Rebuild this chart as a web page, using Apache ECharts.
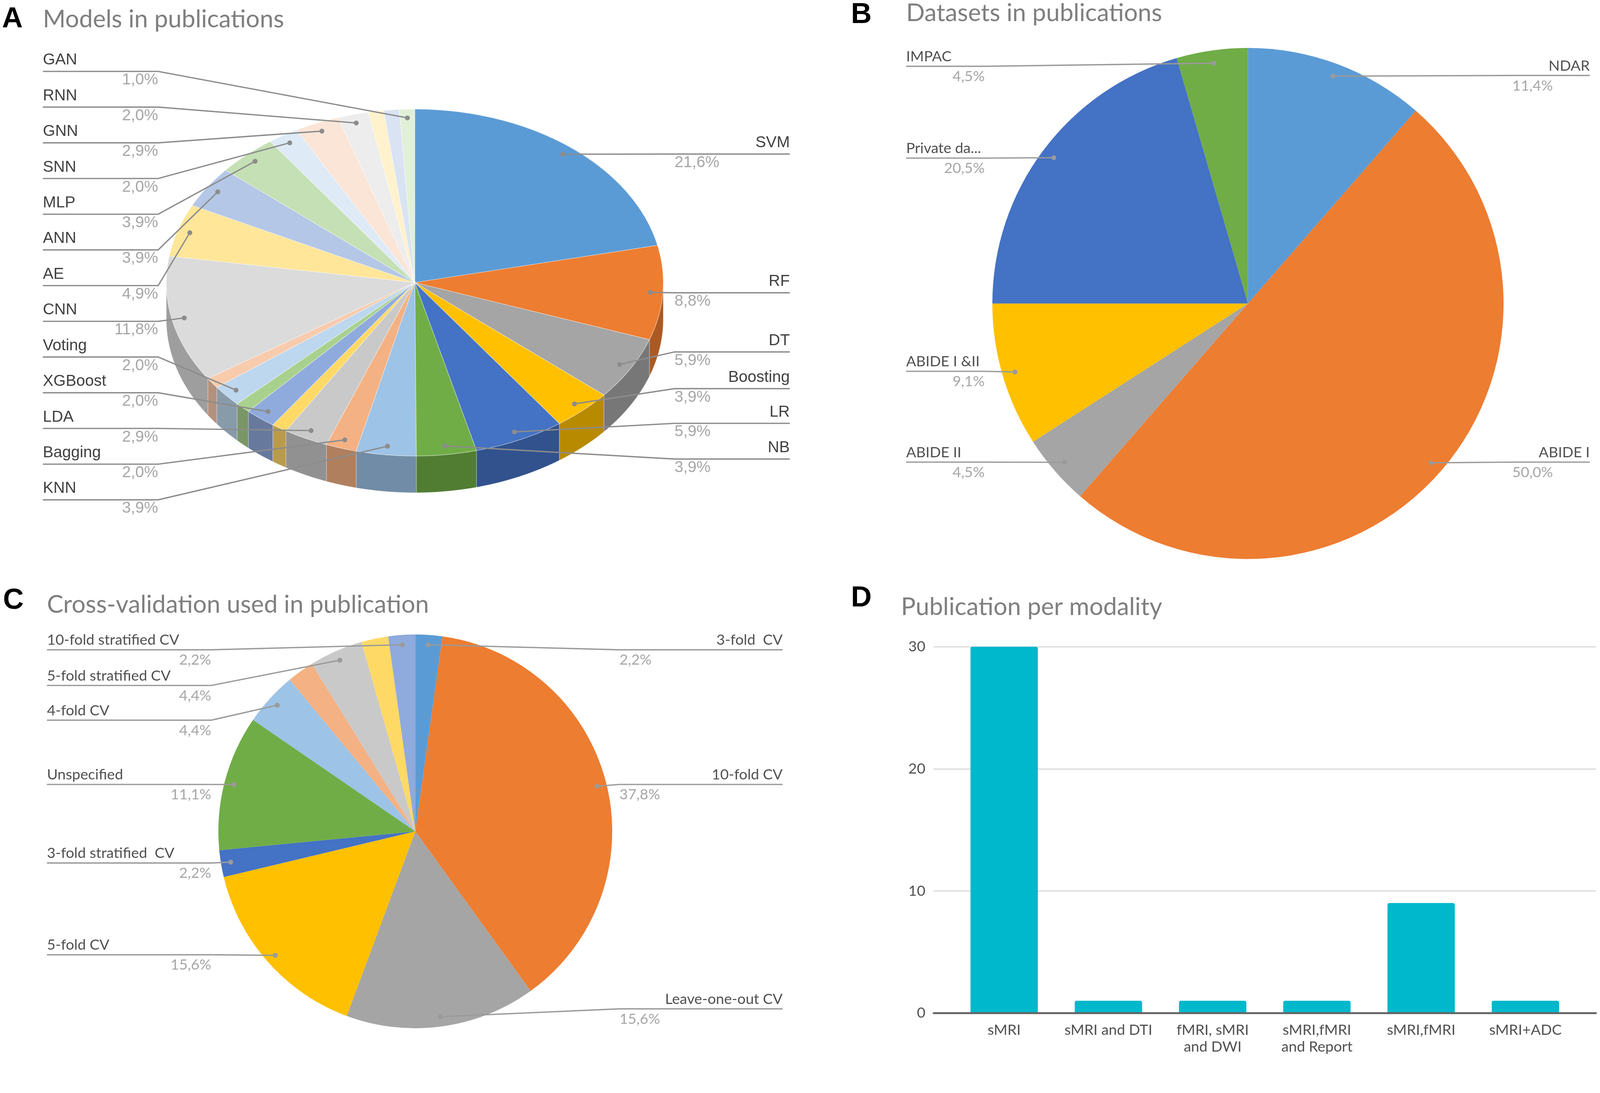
<!DOCTYPE html>
<html><head><meta charset="utf-8">
<script src="https://cdn.jsdelivr.net/npm/echarts@6/dist/echarts.min.js"></script>
<style>html,body{margin:0;padding:0;background:#fff;overflow:hidden}#c{width:100vw;height:100vh}</style>
</head><body><div id="c"></div>
<script>
// ---------------- DATA ----------------
const modelNames = ['SVM','RF','DT','Boosting','LR','NB','KNN','Bagging','LDA','','XGBoost','','Voting','','CNN','AE','ANN','MLP','SNN','GNN','RNN','','','GAN'];
const modelValues = [21.6,8.8,5.9,3.9,5.9,3.9,3.9,2.0,2.9,1.0,2.0,1.0,2.0,1.0,11.8,4.9,3.9,3.9,2.0,2.9,2.0,1.0,1.0,1.0];

const datasetNames = ['NDAR','ABIDE I','ABIDE II','ABIDE I &II','Private da...','IMPAC'];
const datasetValues = [11.4,50.0,4.5,9.1,20.5,4.5];

const cvNames = ['3-fold  CV','10-fold CV','Leave-one-out CV','5-fold CV','3-fold stratified  CV','Unspecified','4-fold CV','','5-fold stratified CV','','10-fold stratified CV'];
const cvValues = [2.2,37.8,15.6,15.6,2.2,11.1,4.4,2.2,4.4,2.2,2.2];

const modalityNames = ['sMRI','sMRI and DTI','fMRI, sMRI\nand DWI','sMRI,fMRI\nand Report','sMRI,fMRI','sMRI+ADC'];
const modalityCounts = [30,1,1,1,9,1];
const countTicks = [0,10,20,30];

// ---------------- STYLE / LAYOUT ----------------
const VW = window.innerWidth || 4244, VH = window.innerHeight || 2799;
const K = VW/4244;                 // viewport scale
const S = 4244/1568*K;             // sketch units -> px
const P = v => v*S;
const F = v => v*K;
const palette = ['#5B9BD5','#ED7D31','#A5A5A5','#FFC000','#4472C4','#70AD47','#9DC3E6','#F4B183','#C9C9C9','#FFD966','#8FAADC','#A9D18E','#BDD7EE','#F8CBAD','#DBDBDB','#FFE699','#B4C7E7','#C5E0B4','#DEEBF7','#FBE5D6','#EDEDED','#FFF2CC','#DAE3F3','#E2F0D9'];
const FONT_A = '"Liberation Sans", Arial, sans-serif';
const FONT_C = 'Lato, Carlito, Calibri, sans-serif';

const geoA = {cx:406.5, cy:277, rx:243.5, ry:170, depth:36};
const geoB = {cx:1223, cy:297.5, rx:250.5, ry:250.5};
const geoC = {cx:407, cy:815, rx:193, ry:193};

const layA = {leftOuter:42, leftInner:155, rightInner:661, rightOuter:774,
  leftY: Array.from({length:13},(_,k)=>70+35*k), rightY:[151,287,345,381,415,450],
  nameDy:-11, pctDy:8.5, font:FONT_A, size:42, nameColor:'#404040', pctColor:'#A6A6A6', lineColor:'#8C8C8C'};
const layB = {leftOuter:888, leftInner:965, rightInner:1482, rightOuter:1558,
  leftY:[65,155,364,453], rightY:[74,453],
  nameDy:-9.5, pctDy:10, font:FONT_C, size:39, nameColor:'#505050', pctColor:'#A6A6A6', lineColor:'#9A9A9A'};
const layC = {leftOuter:46, leftInner:207, rightInner:607, rightOuter:767,
  leftY:[637,672,706,769,846,936], rightY:[637,769,989],
  nameDy:-9.5, pctDy:10, font:FONT_C, size:39, nameColor:'#505050', pctColor:'#A6A6A6', lineColor:'#9A9A9A'};

// ---------------- HELPERS ----------------
function angles(values){
  const tot = values.reduce((s,v)=>s+v,0); let acc = 0;
  return values.map(v=>{const a0=acc/tot*2*Math.PI; acc+=v; return [a0, acc/tot*2*Math.PI];});
}
function pt(g,t,f){ return [g.cx + f*g.rx*Math.sin(t), g.cy - f*g.ry*Math.cos(t)]; }
function darken(hex,f){
  const n=parseInt(hex.slice(1),16); const r=(n>>16)&255,g=(n>>8)&255,b=n&255;
  return 'rgb('+Math.round(r*f)+','+Math.round(g*f)+','+Math.round(b*f)+')';
}
function fmtPct(v){ return v.toFixed(1).replace('.',',')+'%'; }
function planLabels(names, values, g, lay){
  const ang = angles(values); const items=[];
  names.forEach((n,i)=>{ if(!n) return; const m=(ang[i][0]+ang[i][1])/2; items.push({i, p:pt(g,m,0.95), right:m<Math.PI}); });
  const L = items.filter(d=>!d.right).sort((a,b)=>a.p[1]-b.p[1]);
  const R = items.filter(d=>d.right).sort((a,b)=>a.p[1]-b.p[1]);
  L.forEach((d,k)=>{d.y=lay.leftY[k];}); R.forEach((d,k)=>{d.y=lay.rightY[k];});
  const plan={}; items.forEach(d=>{plan[d.i]=d;}); return plan;
}
function labelSeries(names, values, g, lay){
  const plan = planLabels(names, values, g, lay);
  return {
    type:'custom', coordinateSystem:'none', silent:true, z:10, data:values,
    renderItem:function(params, api){
      const d = plan[params.dataIndex]; if(!d) return null;
      const inner = d.right ? lay.rightInner : lay.leftInner;
      const outer = d.right ? lay.rightOuter : lay.leftOuter;
      return {type:'group', children:[
        {type:'polyline', shape:{points:[[P(d.p[0]),P(d.p[1])],[P(inner),P(d.y)],[P(outer),P(d.y)]]},
          style:{stroke:lay.lineColor, lineWidth:F(3.5), fill:null}},
        {type:'circle', shape:{cx:P(d.p[0]), cy:P(d.p[1]), r:F(6.5)}, style:{fill:lay.lineColor}},
        {type:'text', x:P(outer), y:P(d.y+lay.nameDy), style:{text:names[params.dataIndex], fill:lay.nameColor,
          fontSize:F(lay.size), fontFamily:lay.font, align:d.right?'right':'left', verticalAlign:'middle'}},
        {type:'text', x:P(inner), y:P(d.y+lay.pctDy), style:{text:fmtPct(api.value(0)), fill:lay.pctColor,
          fontSize:F(lay.size), fontFamily:lay.font, align:d.right?'left':'right', verticalAlign:'middle'}}
      ]};
    }
  };
}
const angA = angles(modelValues);

// ---------------- CHART ----------------
const chart = echarts.init(document.getElementById('c'));
const titleStyle = {fontFamily:FONT_C, fontSize:F(65), color:'#7F7F7F', fontWeight:'normal'};
const letterStyle = {fontFamily:FONT_A, fontSize:F(76), color:'#000', fontWeight:'bold'};
function ttl(text, x, yc, style){ return {text, left:P(x), top:P(yc)-style.fontSize/2, padding:0, textStyle:style}; }

chart.setOption({
  animation:false,
  backgroundColor:'#fff',
  title:[
    ttl('A',2,19,letterStyle), ttl('Models in publications',42,19,titleStyle),
    ttl('B',834,15,letterStyle), ttl('Datasets in publications',888,13,titleStyle),
    ttl('C',3,589,letterStyle), ttl('Cross-validation used in publication',46,593,titleStyle),
    ttl('D',834,587,letterStyle), ttl('Publication per modality',883,595,titleStyle)
  ],
  grid:[
    {left:P(915), right:VW-P(1564), top:P(634), bottom:VH-P(993)},
    {left:P(933), right:VW-P(1546), top:P(634), bottom:VH-P(993)}
  ],
  xAxis:[
    {gridIndex:0, type:'category', data:modalityNames, axisTick:{show:false}, axisLabel:{show:false},
      axisLine:{show:true, lineStyle:{color:'#666666', width:F(5)}}, z:5},
    {gridIndex:1, type:'category', data:modalityNames, axisTick:{show:false}, axisLine:{show:false},
      axisLabel:{fontFamily:FONT_C, fontSize:F(39), color:'#505050', lineHeight:F(44), margin:F(24), interval:0}}
  ],
  yAxis:[
    {gridIndex:0, type:'value', min:countTicks[0], max:countTicks[countTicks.length-1], interval:countTicks[1]-countTicks[0],
      axisLine:{show:false}, axisTick:{show:false},
      axisLabel:{fontFamily:FONT_C, fontSize:F(39), color:'#505050', margin:F(22)},
      splitLine:{lineStyle:{color:'#D9D9D9', width:F(3)}}},
    {gridIndex:1, type:'value', min:countTicks[0], max:countTicks[countTicks.length-1], interval:countTicks[1]-countTicks[0], show:false, splitLine:{show:false}}
  ],
  series:[
    // A: 3D pie side walls
    {type:'custom', coordinateSystem:'none', silent:true, z:2, data:modelValues,
      renderItem:function(params){
        const i=params.dataIndex; const a0=angA[i][0], a1=angA[i][1];
        const b0=Math.max(a0,Math.PI/2), b1=Math.min(a1,1.5*Math.PI);
        if(b1<=b0) return null;
        const n=Math.max(2,Math.ceil((b1-b0)/0.01)); const top=[],bot=[];
        for(let k=0;k<=n;k++){const t=b0+(b1-b0)*k/n; const q=pt(geoA,t,1);
          top.push([P(q[0]),P(q[1])]); bot.push([P(q[0]),P(q[1]+geoA.depth)]);}
        return {type:'polygon', shape:{points:top.concat(bot.reverse())},
          style:{fill:darken(palette[i],0.72), stroke:'rgba(255,255,255,0.35)', lineWidth:F(1.5)}};
      }},
    // A: 3D pie top faces
    {type:'custom', coordinateSystem:'none', silent:true, z:3, data:modelValues,
      renderItem:function(params){
        const i=params.dataIndex; const a0=angA[i][0], a1=angA[i][1];
        const n=Math.max(2,Math.ceil((a1-a0)/0.01)); const pts=[[P(geoA.cx),P(geoA.cy)]];
        for(let k=0;k<=n;k++){const t=a0+(a1-a0)*k/n; const q=pt(geoA,t,1); pts.push([P(q[0]),P(q[1])]);}
        return {type:'polygon', shape:{points:pts}, style:{fill:palette[i], stroke:'rgba(255,255,255,0.45)', lineWidth:F(1.5)}};
      }},
    labelSeries(modelNames, modelValues, geoA, layA),
    // B pie
    {type:'pie', silent:true, z:3, center:[P(geoB.cx),P(geoB.cy)], radius:P(geoB.rx), startAngle:90, clockwise:true,
      label:{show:false}, labelLine:{show:false}, emphasis:{disabled:true},
      data:datasetValues.map((v,i)=>({name:datasetNames[i], value:v, itemStyle:{color:palette[i]}}))},
    labelSeries(datasetNames, datasetValues, geoB, layB),
    // C pie
    {type:'pie', silent:true, z:3, center:[P(geoC.cx),P(geoC.cy)], radius:P(geoC.rx), startAngle:90, clockwise:true,
      label:{show:false}, labelLine:{show:false}, emphasis:{disabled:true},
      data:cvValues.map((v,i)=>({name:cvNames[i]||('other '+i), value:v, itemStyle:{color:palette[i]}}))},
    labelSeries(cvNames, cvValues, geoC, layC),
    // D bars
    {type:'bar', xAxisIndex:1, yAxisIndex:1, data:modalityCounts, barWidth:P(66), silent:true, z:3,
      itemStyle:{color:'#00B8CC', borderRadius:[F(5),F(5),0,0]}}
  ]
});
</script></body></html>
